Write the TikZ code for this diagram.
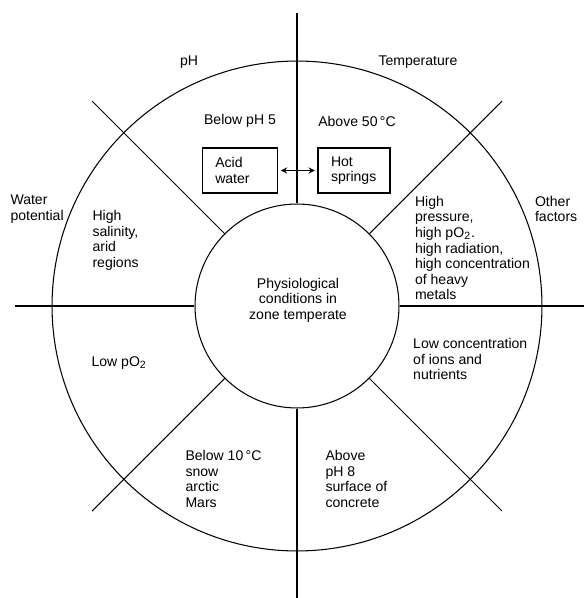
\documentclass[tikz,border=0pt]{standalone}
\usepackage{fontspec}
\setmainfont{Liberation Sans}
\newcommand{\lblfont}{\fontsize{8}{8.9}\selectfont}
\begin{document}
\begin{tikzpicture}[x=0.02cm, y=-0.02cm, line width=0.6pt,
  every node/.style={font=\lblfont, inner sep=0pt},
  zone/.style={anchor=west, align=left},
  envbox/.style={draw, align=left, minimum height=0.9cm, inner xsep=0.26cm}]
\useasboundingbox (0,0) rectangle (584,598);
% rings
\coordinate (ctr) at (297,306);
\draw (ctr) circle (4.9cm);
\node[circle, draw, minimum size=4.08cm] (core) at (ctr) {};
\node[align=center] (phys) at (298,300) {Physiological\\conditions in\\zone temperate};
% spokes
\coordinate (n) at (297,13);
\coordinate (s) at (297,598);
\coordinate (w) at (15,306);
\coordinate (e) at (584,306);
\coordinate (nw) at (92,101);
\coordinate (ne) at (502,101);
\coordinate (sw) at (92,511);
\coordinate (se) at (502,511);
\draw (core.north) -- (n);
\draw (core.south) -- (s);
\draw (core.west) -- (w);
\draw (core.east) -- (e);
\draw (core.135) -- (nw);
\draw (core.45) -- (ne);
\draw (core.225) -- (sw);
\draw (core.315) -- (se);
% outer factor labels
\node (ph) at (189,62) {pH};
\node (temp) at (418,62) {Temperature};
\node[zone] (water) at (10,209) {Water\\potential};
\node[zone] (other) at (534.5,209) {Other\\factors};
% sectors
\node (lowph) at (240,121) {Below pH 5};
\node (hi50) at (357,121) {Above 50\,°C};
\node[envbox, text width=0.99cm] (acid) at (240,170.5) {Acid\\water};
\node[envbox, text width=0.92cm] (hot) at (354,170.5) {Hot\\springs};
\draw[<->, >=stealth, shorten <=1.5pt, shorten >=1.5pt] (acid) -- (hot);
\node[zone] (salt) at (92,240.5) {High\\salinity,\\arid\\regions};
\node[zone] (press) at (414.5,248) {High\\pressure,\\high pO\textsubscript{2}.\\high radiation,\\high concentration\\of heavy\\metals};
\node[zone] (lowo) at (91,363) {Low pO\textsubscript{2}};
\node[zone] (ions) at (412.7,359) {Low concentration\\of ions and\\nutrients};
\node[zone] (cold) at (185,479) {Below 10\,°C\\snow\\arctic\\Mars};
\node[zone] (alk) at (325,479) {Above\\pH 8\\surface of\\concrete};
\end{tikzpicture}
\end{document}
